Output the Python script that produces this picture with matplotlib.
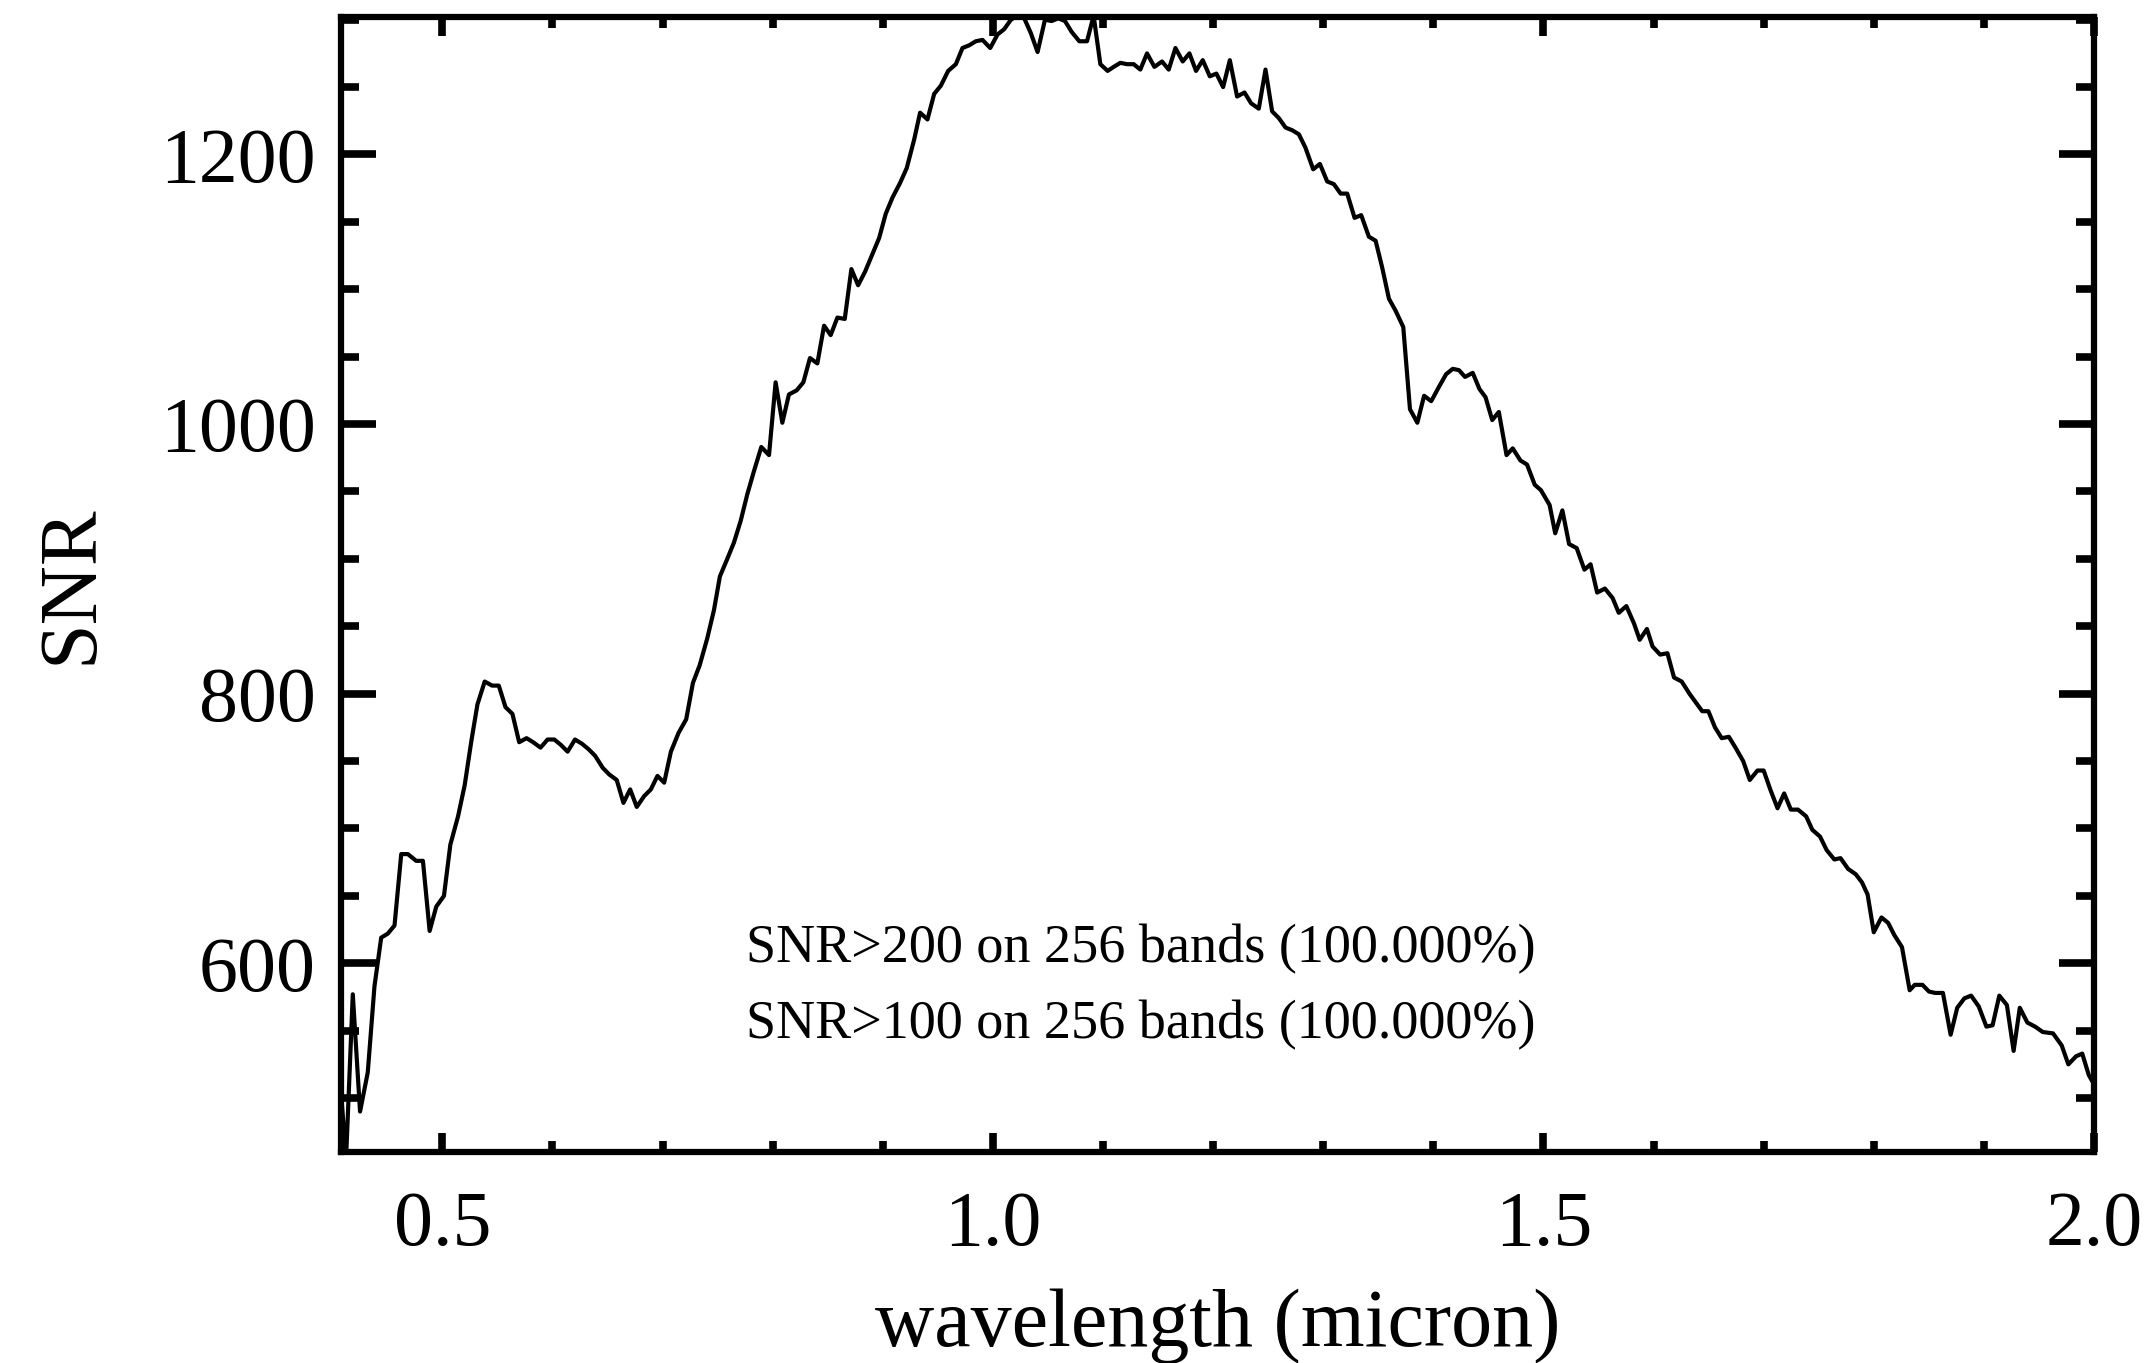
import matplotlib
matplotlib.use("Agg")
import matplotlib.pyplot as plt
from matplotlib.ticker import MultipleLocator, FormatStrFormatter

# SNR per band
wavelength = [
    0.4085, 0.4126, 0.4187, 0.4253, 0.4323, 0.4384, 0.4445, 0.4505, 0.4566, 0.4627,
    0.4687, 0.4763, 0.4824, 0.4885, 0.4945, 0.5015, 0.5073, 0.5143, 0.5203, 0.5264,
    0.5319, 0.5385, 0.5452, 0.5513, 0.5574, 0.5637, 0.5698, 0.5765, 0.5825, 0.5892,
    0.5956, 0.6017, 0.6077, 0.6138, 0.6205, 0.6266, 0.6326, 0.6387, 0.6457, 0.6517,
    0.6584, 0.6645, 0.6706, 0.6766, 0.6833, 0.6894, 0.6954, 0.7015, 0.7076, 0.7146,
    0.7215, 0.7276, 0.7337, 0.7406, 0.7467, 0.7521, 0.7588, 0.7648, 0.7709, 0.7770,
    0.7830, 0.7897, 0.7967, 0.8027, 0.8088, 0.8148, 0.8218, 0.8279, 0.8339, 0.8406,
    0.8467, 0.8527, 0.8588, 0.8655, 0.8715, 0.8776, 0.8839, 0.8900, 0.8967, 0.9027,
    0.9088, 0.9158, 0.9218, 0.9285, 0.9339, 0.9406, 0.9467, 0.9527, 0.9594, 0.9664,
    0.9724, 0.9785, 0.9845, 0.9906, 0.9976, 1.0042, 1.0103, 1.0164, 1.0224, 1.0285,
    1.0345, 1.0406, 1.0473, 1.0533, 1.0594, 1.0655, 1.0715, 1.0785, 1.0855, 1.0915,
    1.0976, 1.1042, 1.1097, 1.1158, 1.1218, 1.1279, 1.1339, 1.1400, 1.1467, 1.1536,
    1.1597, 1.1658, 1.1724, 1.1785, 1.1845, 1.1906, 1.1970, 1.2030, 1.2091, 1.2152,
    1.2218, 1.2285, 1.2345, 1.2415, 1.2476, 1.2536, 1.2597, 1.2658, 1.2718, 1.2779,
    1.2839, 1.2909, 1.2970, 1.3036, 1.3097, 1.3158, 1.3218, 1.3285, 1.3345, 1.3415,
    1.3476, 1.3536, 1.3597, 1.3658, 1.3727, 1.3788, 1.3855, 1.3916, 1.3981, 1.4047,
    1.4116, 1.4177, 1.4233, 1.4288, 1.4358, 1.4419, 1.4474, 1.4535, 1.4595, 1.4665,
    1.4721, 1.4791, 1.4851, 1.4921, 1.4977, 1.5056, 1.5107, 1.5172, 1.5233, 1.5302,
    1.5372, 1.5428, 1.5488, 1.5558, 1.5628, 1.5684, 1.5753, 1.5823, 1.5874, 1.5940,
    1.5991, 1.6060, 1.6126, 1.6186, 1.6256, 1.6326, 1.6442, 1.6498, 1.6558, 1.6619,
    1.6684, 1.6744, 1.6814, 1.6874, 1.6944, 1.7000, 1.7060, 1.7126, 1.7186, 1.7247,
    1.7312, 1.7386, 1.7442, 1.7512, 1.7572, 1.7642, 1.7698, 1.7767, 1.7837, 1.7893,
    1.7944, 1.8000, 1.8070, 1.8130, 1.8186, 1.8256, 1.8326, 1.8372, 1.8442, 1.8502,
    1.8558, 1.8628, 1.8698, 1.8758, 1.8823, 1.8884, 1.8953, 1.9023, 1.9079, 1.9140,
    1.9209, 1.9270, 1.9326, 1.9395, 1.9465, 1.9535, 1.9628, 1.9707, 1.9767, 1.9837,
    1.9893, 1.9953, 2.0009,
]
snr = [
    499, 455, 577, 490, 519, 583, 619, 622, 628, 681,
    681, 676, 676, 624, 642, 650, 688, 709, 732, 765,
    792, 809, 806, 806, 790, 785, 764, 767, 764, 760,
    766, 766, 762, 757, 766, 763, 759, 754, 745, 740,
    736, 719, 729, 716, 724, 729, 739, 734, 757, 771,
    781, 808, 821, 841, 862, 887, 900, 912, 928, 948,
    965, 983, 977, 1031, 1001, 1022, 1025, 1031, 1049, 1045,
    1073, 1066, 1079, 1078, 1115, 1103, 1113, 1125, 1138, 1156,
    1168, 1179, 1190, 1211, 1231, 1226, 1245, 1251, 1262, 1267,
    1279, 1281, 1284, 1285, 1279, 1289, 1293, 1300, 1303, 1301,
    1290, 1276, 1300, 1299, 1301, 1299, 1291, 1284, 1284, 1303,
    1267, 1262, 1265, 1268, 1267, 1267, 1263, 1275, 1265, 1269,
    1263, 1279, 1269, 1275, 1262, 1270, 1258, 1260, 1250, 1270,
    1243, 1246, 1238, 1234, 1263, 1232, 1227, 1220, 1218, 1215,
    1205, 1189, 1193, 1180, 1178, 1171, 1171, 1153, 1155, 1139,
    1136, 1116, 1093, 1084, 1072, 1011, 1001, 1021, 1017, 1027,
    1037, 1041, 1040, 1035, 1038, 1026, 1020, 1003, 1009, 977,
    982, 973, 970, 955, 951, 940, 919, 936, 911, 908,
    892, 896, 875, 878, 871, 860, 865, 852, 840, 848,
    835, 829, 830, 812, 809, 800, 787, 787, 775, 767,
    768, 760, 750, 736, 743, 743, 729, 715, 726, 714,
    714, 709, 699, 694, 684, 677, 678, 670, 666, 660,
    651, 623, 634, 630, 621, 612, 580, 584, 584, 579,
    578, 578, 547, 567, 574, 576, 568, 553, 554, 576,
    569, 535, 567, 556, 553, 549, 548, 539, 525, 531,
    533, 517, 509,
]

stats_lines = [
    "SNR>200 on 256 bands (100.000%)",
    "SNR>100 on 256 bands (100.000%)",
]

plt.rcParams['font.family'] = ['Liberation Serif', 'DejaVu Serif']

W, H = 2149, 1363
fig = plt.figure(figsize=(W / 100, H / 100), dpi=100)
ax = fig.add_axes([341 / W, 1 - 1152 / H, (2094 - 341) / W, (1152 - 17) / H])

ax.plot(wavelength, snr, color='black', lw=3.0)

ax.set_xlim(0.408, 2.0)
ax.set_ylim(460, 1302)
ax.xaxis.set_major_locator(MultipleLocator(0.5))
ax.xaxis.set_minor_locator(MultipleLocator(0.1))
ax.xaxis.set_major_formatter(FormatStrFormatter('%.1f'))
ax.yaxis.set_major_locator(MultipleLocator(200))
ax.yaxis.set_minor_locator(MultipleLocator(50))

ax.tick_params(which='both', direction='in', top=True, right=True, width=5.5, color='black')
ax.tick_params(axis='x', which='major', length=14, pad=28, labelsize=56)
ax.tick_params(axis='x', which='minor', length=8)
ax.tick_params(axis='y', which='major', length=25, pad=18, labelsize=56)
ax.tick_params(axis='y', which='minor', length=13)
for sp in ax.spines.values():
    sp.set_linewidth(4.5)

ax.set_xlabel('wavelength (micron)', fontsize=59)
ax.xaxis.set_label_coords(0.5, -0.12)
ax.set_ylabel('SNR', fontsize=59)
ax.yaxis.set_label_coords(-0.132, 0.5)

ax.text(0.231, 0.1674, stats_lines[0], transform=ax.transAxes, fontsize=39, va='baseline')
ax.text(0.231, 0.1004, stats_lines[1], transform=ax.transAxes, fontsize=39, va='baseline')

fig.savefig('out.png', dpi=100)
